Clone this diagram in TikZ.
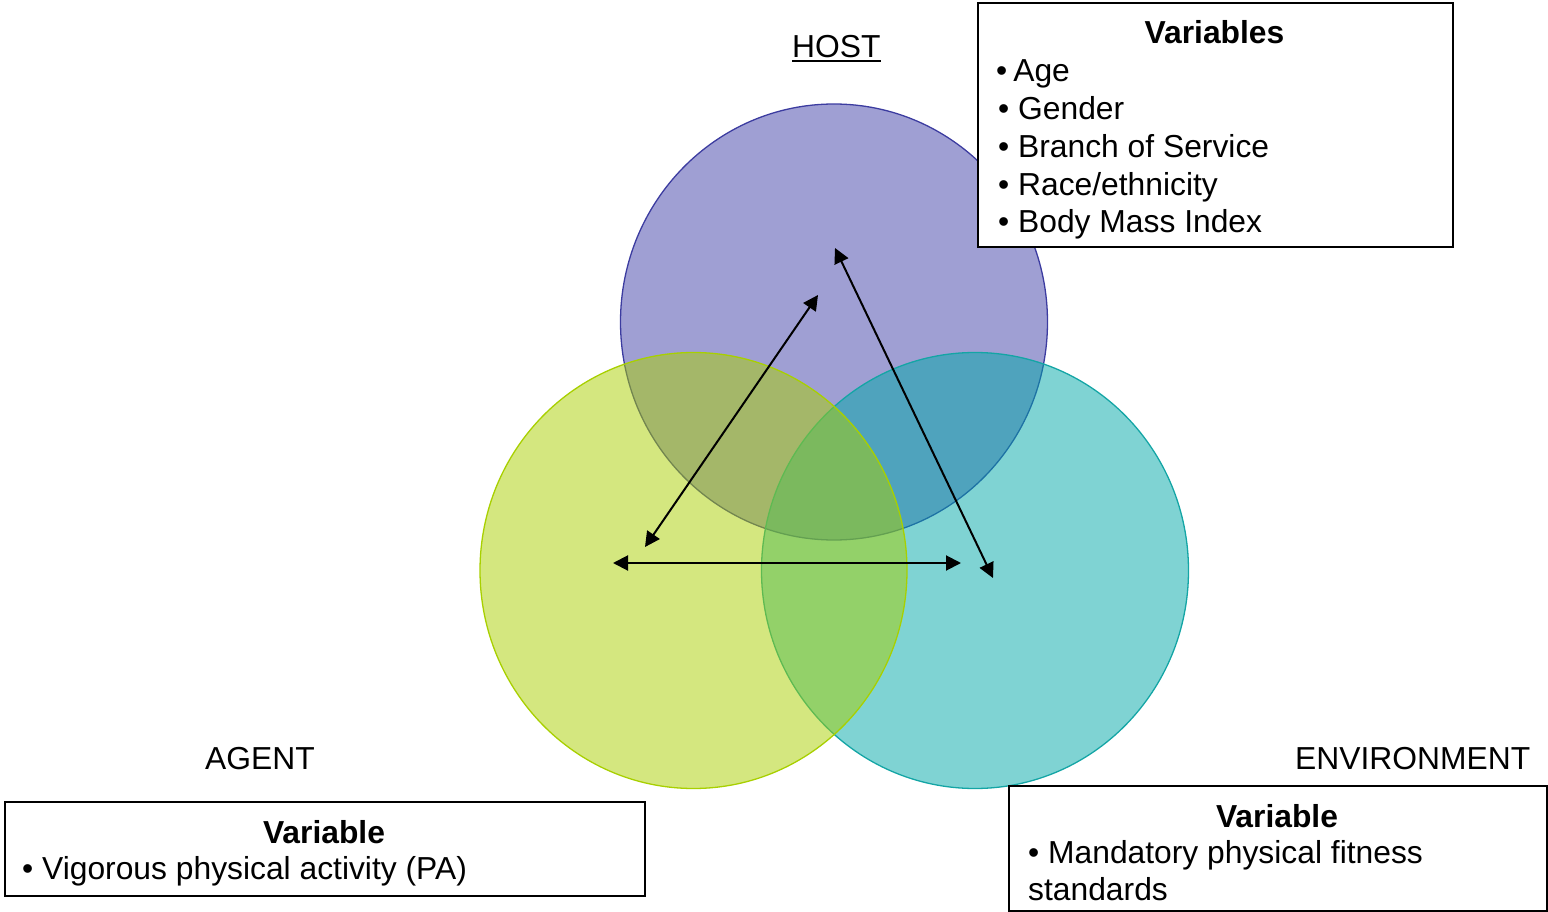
\documentclass[tikz,border=0pt]{standalone}
\usepackage{fontspec}
\setmainfont{Liberation Sans}
\usetikzlibrary{shapes.geometric,arrows.meta}
\definecolor{hostc}{RGB}{64,64,168}
\definecolor{hostedge}{RGB}{60,60,160}
\definecolor{agentc}{RGB}{169,207,0}
\definecolor{agentedge}{RGB}{168,208,0}
\definecolor{envc}{RGB}{0,168,168}
\definecolor{envedge}{RGB}{20,165,165}
\begin{document}
\begin{tikzpicture}[x=1pt,y=-1pt,
  circ/.style={ellipse, draw, line width=1.3pt, fill opacity=0.5, inner sep=0pt, minimum width=427pt, minimum height=436pt},
  txt/.style={inner sep=0pt, font=\fontsize{31.8}{38}\selectfont, anchor=base west},
  btxt/.style={inner sep=0pt, font=\fontsize{31.8}{38}\selectfont\bfseries, anchor=base},
  infobox/.style={draw, fill=white, line width=2pt, inner sep=0pt, anchor=north west},
  arr/.style={{Triangle[length=15pt,width=15pt]}-{Triangle[length=15pt,width=15pt]}, line width=2pt}]
\useasboundingbox (0,0) rectangle (1548,912);
% circles
\node[circ, draw=hostedge, fill=hostc] (host) at (834,322) {};
\node[circ, draw=envedge, fill=envc] (env) at (975,570.5) {};
\node[circ, draw=agentedge, fill=agentc] (agent) at (693.5,570.5) {};
% arrows
\coordinate (a1) at (645,547);
\coordinate (h1) at (818,295);
\coordinate (h2) at (835,248);
\coordinate (e1) at (993,578);
\coordinate (a2) at (613,563);
\coordinate (e2) at (961,563);
\draw[arr] (a1) -- (h1);
\draw[arr] (h2) -- (e1);
\draw[arr] (a2) -- (e2);
% labels
\node[txt] (hostlbl) at (792,57.5) {HOST};
\draw[line width=2pt] ([yshift=-4pt]hostlbl.base west) -- ([yshift=-4pt]hostlbl.base east);
\node[txt] (agentlbl) at (205,769.5) {AGENT};
\node[txt] (envlbl) at (1295,769.5) {ENVIRONMENT};
% host box
\node[infobox, minimum width=475pt, minimum height=244pt] (hostbox) at (977,2) {};
\node[btxt] (hostvars) at (1214.5,43.5) {Variables};
\node[txt] (v1) at (996,81.5) {•\kern6pt Age};
\node[txt] (v2) at (998,119.5) {• Gender};
\node[txt] (v3) at (998,157.5) {• Branch of Service};
\node[txt] (v4) at (998,195.5) {• Race/ethnicity};
\node[txt] (v5) at (998,232.5) {• Body Mass Index};
% agent box
\node[infobox, minimum width=640pt, minimum height=94pt] (agentbox) at (4,801) {};
\node[btxt] (agentvar) at (324,843.5) {Variable};
\node[txt] (av1) at (22,879.5) {• Vigorous physical activity (PA)};
% environment box
\node[infobox, minimum width=538pt, minimum height=125pt] (envbox) at (1008,785) {};
\node[btxt] (envvar) at (1277,827.5) {Variable};
\node[txt] (ev1) at (1028,863.5) {• Mandatory physical fitness};
\node[txt] (ev2) at (1028,900.5) {standards};
\end{tikzpicture}
\end{document}
